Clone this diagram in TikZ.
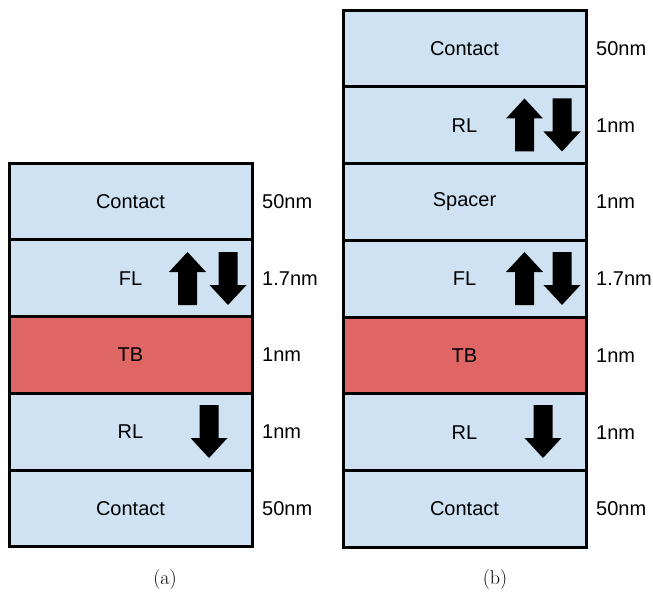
\documentclass[tikz,border=0pt]{standalone}
\usepackage{fontspec}
\usepackage{xcolor}
\usepackage{tikz}
\usetikzlibrary{positioning}
\newfontfamily\layerfont{Liberation Sans}
\definecolor{LayerBlue}{RGB}{207, 226, 243}
\definecolor{BarrierRed}{RGB}{224, 102, 102}

\tikzset{
  layer/.style={draw=black, line width=3pt, fill=LayerBlue, outer sep=0pt,
    minimum width=243pt, minimum height=76.75pt, inner sep=0pt,
    font=\layerfont\fontsize{20}{24}\selectfont},
  barrier/.style={layer, fill=BarrierRed},
  thick/.style={inner sep=0pt, anchor=west, font=\layerfont\fontsize{20}{24}\selectfont},
  caption/.style={font=\fontsize{20}{24}\selectfont},
  % block arrows for the magnetisation
  spinup/.pic={\fill (0,-26.5) -- (18.5,-6.5) -- (9.5,-6.5) -- (9.5,26.5)
    -- (-9.5,26.5) -- (-9.5,-6.5) -- (-18.5,-6.5) -- cycle;},
  spindown/.pic={\fill (0,26.5) -- (18.5,6.5) -- (9.5,6.5) -- (9.5,-26.5)
    -- (-9.5,-26.5) -- (-9.5,6.5) -- (-18.5,6.5) -- cycle;}
}

\begin{document}
\begin{tikzpicture}[x=1pt, y=-1pt]
  \useasboundingbox (0,0) rectangle (653,596);

  % (a) stack
  \node[layer] (aTop) at (130.5,201.4) {Contact};
  \node[layer, below=0pt of aTop] (aFL) {FL};
  \node[barrier, below=0pt of aFL] (aTB) {TB};
  \node[layer, below=0pt of aTB] (aRL) {RL};
  \node[layer, below=0pt of aRL] (aBot) {Contact};

  \node[thick, right=10pt of aTop] (aTopT) {50nm};
  \node[thick, right=10pt of aFL] (aFLT) {1.7nm};
  \node[thick, right=10pt of aTB] (aTBT) {1nm};
  \node[thick, right=10pt of aRL] (aRLT) {1nm};
  \node[thick, right=10pt of aBot] (aBotT) {50nm};

  \pic at (187.5,278.5) {spinup};
  \pic at (228,278.5) {spindown};
  \pic at (209,431.5) {spindown};

  % (b) stack
  \node[layer] (bTop) at (464.5,48.4) {Contact};
  \node[layer, below=0pt of bTop] (bRL) {RL};
  \node[layer, below=0pt of bRL] (bSp) {Spacer};
  \node[layer, below=0pt of bSp] (bFL) {FL};
  \node[barrier, below=0pt of bFL] (bTB) {TB};
  \node[layer, below=0pt of bTB] (bRL2) {RL};
  \node[layer, below=0pt of bRL2] (bBot) {Contact};

  \node[thick, right=10pt of bTop] (bTopT) {50nm};
  \node[thick, right=10pt of bRL] (bRLT) {1nm};
  \node[thick, right=10pt of bSp] (bSpT) {1nm};
  \node[thick, right=10pt of bFL] (bFLT) {1.7nm};
  \node[thick, right=10pt of bTB] (bTBT) {1nm};
  \node[thick, right=10pt of bRL2] (bRL2T) {1nm};
  \node[thick, right=10pt of bBot] (bBotT) {50nm};

  \pic at (524.5,125) {spinup};
  \pic at (562,125) {spindown};
  \pic at (524.5,278.5) {spinup};
  \pic at (562,278.5) {spindown};
  \pic at (543,431.5) {spindown};

  \node[caption] (capA) at (165,580) {(a)};
  \node[caption] (capB) at (495,580) {(b)};
\end{tikzpicture}
\end{document}
